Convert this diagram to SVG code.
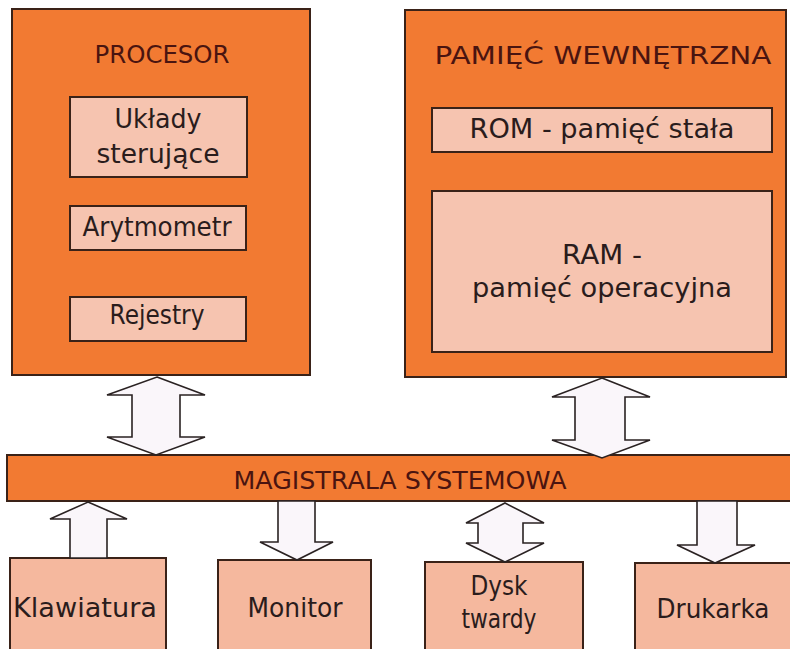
<svg xmlns="http://www.w3.org/2000/svg" width="790" height="649" viewBox="0 0 790 649">
<style>
.big{fill:#F27A32;stroke:#3a2218;stroke-width:2}
.inner{fill:#F6C4B0;stroke:#3a2218;stroke-width:2}
.dev{fill:#F5B89E;stroke:#3a2218;stroke-width:2}
.arr{fill:#FAF6FA;stroke:#2a2222;stroke-width:1.6;stroke-linejoin:miter}
text{font-family:"DejaVu Sans","Liberation Sans",sans-serif;text-anchor:middle}
.t{font-size:26px;fill:#2a1c1c}
.h{font-size:25px;fill:#4a1410}
</style>
<rect x="0" y="0" width="790" height="649" fill="#ffffff"/>
<g id="procesor">
<rect class="big" x="12" y="9" width="298" height="366"/>
<text class="h" x="162" y="63" textLength="135" lengthAdjust="spacingAndGlyphs">PROCESOR</text>
</g>
<g id="uklady">
<rect class="inner" x="70" y="97" width="177" height="80"/>
<text class="t" x="158" y="128" textLength="87" lengthAdjust="spacingAndGlyphs">Układy</text>
<text class="t" x="158" y="163" textLength="123" lengthAdjust="spacingAndGlyphs">sterujące</text>
</g>
<g id="arytmometr">
<rect class="inner" x="70" y="206" width="176" height="44"/>
<text class="t" x="157" y="236" textLength="149" lengthAdjust="spacingAndGlyphs">Arytmometr</text>
</g>
<g id="rejestry">
<rect class="inner" x="70" y="297" width="176" height="44"/>
<text class="t" x="157" y="324" textLength="95" lengthAdjust="spacingAndGlyphs">Rejestry</text>
</g>
<g id="pamiec">
<rect class="big" x="405" y="10" width="381" height="367"/>
<text class="h" x="603" y="64" textLength="337" lengthAdjust="spacingAndGlyphs">PAMIĘĆ WEWNĘTRZNA</text>
</g>
<g id="rom">
<rect class="inner" x="432" y="108" width="340" height="44"/>
<text class="t" x="602" y="138" textLength="265" lengthAdjust="spacingAndGlyphs">ROM - pamięć stała</text>
</g>
<g id="ram">
<rect class="inner" x="432" y="191" width="340" height="161"/>
<text class="t" x="602" y="264" textLength="80" lengthAdjust="spacingAndGlyphs">RAM -</text>
<text class="t" x="602" y="297" textLength="260" lengthAdjust="spacingAndGlyphs">pamięć operacyjna</text>
</g>
<g id="magistrala">
<rect class="big" x="7" y="455" width="790" height="46"/>
<text class="h" x="400" y="489" textLength="333" lengthAdjust="spacingAndGlyphs">MAGISTRALA SYSTEMOWA</text>
</g>
<g id="klawiatura">
<rect class="dev" x="10" y="558" width="156" height="95"/>
<text class="t" x="85" y="617" textLength="144" lengthAdjust="spacingAndGlyphs">Klawiatura</text>
</g>
<g id="monitor">
<rect class="dev" x="218" y="560" width="153" height="93"/>
<text class="t" x="295" y="617" textLength="95" lengthAdjust="spacingAndGlyphs">Monitor</text>
</g>
<g id="dysk">
<rect class="dev" x="425" y="562" width="158" height="91"/>
<text class="t" x="499" y="595" textLength="57" lengthAdjust="spacingAndGlyphs">Dysk</text>
<text class="t" x="499" y="628" textLength="75" lengthAdjust="spacingAndGlyphs">twardy</text>
</g>
<g id="drukarka">
<rect class="dev" x="635" y="563" width="160" height="90"/>
<text class="t" x="713" y="618" textLength="113" lengthAdjust="spacingAndGlyphs">Drukarka</text>
</g>
<g id="connectors">
<polygon class="arr" points="157,377 205,395 180,395 180,437 205,437 156,455 107,437 132,437 132,395 107,395"/>
<polygon class="arr" points="602,378 650,397 625,397 625,440 650,440 602,458 552,440 575,440 575,397 552,397"/>
<polygon class="arr" points="88,502 127,519 107,519 107,558 70,558 70,519 50,519"/>
<polygon class="arr" points="278,501 315,501 315,542 333,542 297,560 260,542 278,542"/>
<polygon class="arr" points="505,503 544,523 523,523 523,543 544,543 505,562 466,543 478,543 478,523 466,523"/>
<polygon class="arr" points="697,501 737,501 737,545 755,545 715,563 677,545 697,545"/>
</g>
</svg>
